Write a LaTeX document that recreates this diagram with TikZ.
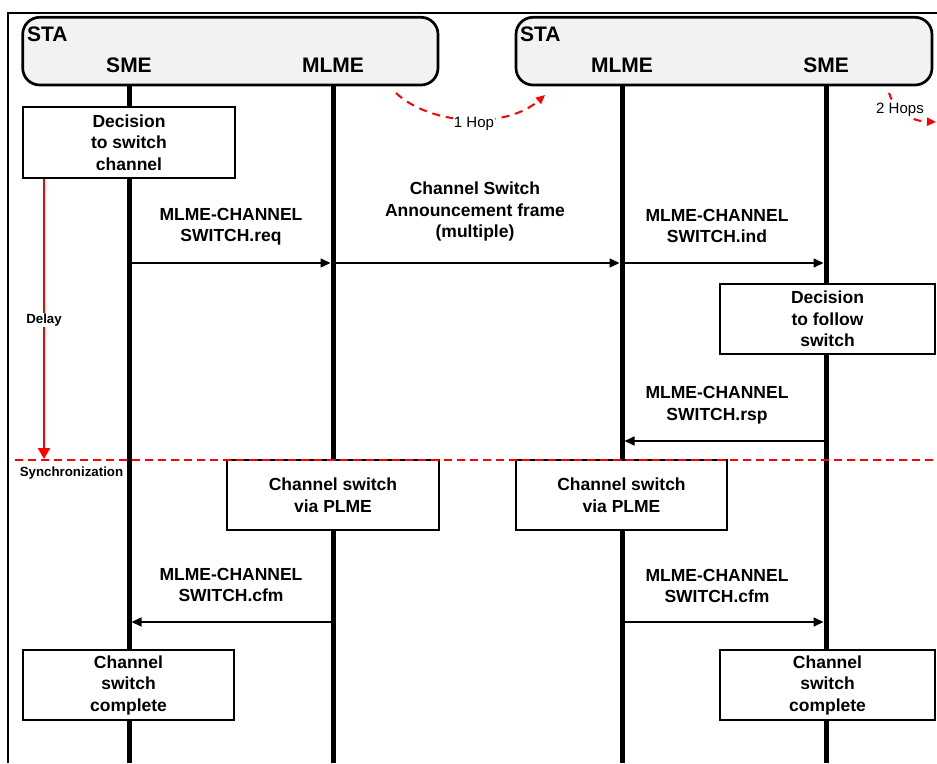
\documentclass[tikz,border=0pt]{standalone}
\usepackage{fontspec}
\setmainfont{Liberation Sans}
\usetikzlibrary{arrows.meta}
\definecolor{stagray}{HTML}{F2F2F2}
\definecolor{hopred}{HTML}{FF0000}
\tikzset{
  frameline/.style={line width=2pt},
  stabox/.style={draw, line width=2.7pt, fill=stagray, rounded corners=17pt},
  head/.style={font=\fontsize{21}{24}\selectfont\bfseries, inner sep=0pt},
  lifeline/.style={line width=5pt},
  procbox/.style={draw, line width=1.2pt, fill=white, align=center, inner sep=0pt,
    font=\fontsize{17.5}{21.5}\selectfont\bfseries},
  msglabel/.style={align=center, inner sep=0pt, font=\fontsize{17.5}{21.5}\selectfont\bfseries},
  msg/.style={line width=1.5pt, -{Triangle[length=10pt,width=9pt]}},
  smalllabel/.style={inner sep=1pt, font=\fontsize{13.3}{16}\selectfont\bfseries},
  hoplabel/.style={inner sep=1pt, fill=white, font=\fontsize{15}{18}\selectfont},
  redarrow/.style={draw=hopred, line width=2pt, -{Triangle[length=11pt,width=12pt]}},
  reddash/.style={draw=hopred, line width=2pt, dash pattern=on 8pt off 5pt},
  hoparc/.style={draw=hopred, line width=2pt, dash pattern=on 8pt off 6pt, -{Triangle[length=9pt,width=8pt]}}
}
\begin{document}
\begin{tikzpicture}[x=1pt,y=-1pt]
\useasboundingbox (0,0) rectangle (937,763);
\fill[white] (0,0) rectangle (937,763);
% outer frame
\draw[frameline] (8,763) -- (8,13) -- (937,13);
% STA boxes
\draw[stabox] (22.7,17.3) rectangle (438,85);
\draw[stabox] (516,17.3) rectangle (932,85);
\node[head, anchor=west] (staL) at (27,34.5) {STA};
\node[head, anchor=west] (staR) at (520,34.5) {STA};
\node[head] (hSME1) at (129,65) {SME};
\node[head] (hMLME1) at (333,65) {MLME};
\node[head] (hMLME2) at (622,65) {MLME};
\node[head] (hSME2) at (826,65) {SME};
% lifelines
\coordinate (L1t) at (129,86); \coordinate (L1b) at (129,763);
\coordinate (L2t) at (333,86); \coordinate (L2b) at (333,763);
\coordinate (L3t) at (622,86); \coordinate (L3b) at (622,763);
\coordinate (L4t) at (826,86); \coordinate (L4b) at (826,763);
\draw[lifeline] (L1t) -- (L1b);
\draw[lifeline] (L2t) -- (L2b);
\draw[lifeline] (L3t) -- (L3b);
\draw[lifeline] (L4t) -- (L4b);
% hops
\coordinate (h1s) at (396,93); \coordinate (h1e) at (545,95);
\draw[hoparc] (h1s) .. controls (430,125) and (505,130) .. (h1e);
\node[hoplabel] (hop1) at (474,124) {1 Hop};
\coordinate (h2s) at (889,93); \coordinate (h2e) at (936,122);
\draw[hoparc, dash pattern=on 7pt off 30pt on 8pt off 6pt] (h2s) .. controls (893,106) and (906,121) .. (h2e);
\node[hoplabel] (hop2) at (900,110) {2 Hops};
% boxes
\node[procbox, minimum width=212pt, minimum height=71pt] (dec1) at (129,142.5) {Decision\\to switch\\channel};
\node[procbox, minimum width=215pt, minimum height=70pt] (dec2) at (827.5,319) {Decision\\to follow\\switch};
\node[procbox, minimum width=212pt, minimum height=70pt] (plme1) at (333,495) {Channel switch\\via PLME};
\node[procbox, minimum width=211pt, minimum height=70pt] (plme2) at (621.5,495) {Channel switch\\via PLME};
\node[procbox, minimum width=211pt, minimum height=70pt] (comp1) at (128.5,685) {Channel\\switch\\complete};
\node[procbox, minimum width=215pt, minimum height=70pt] (comp2) at (827.5,685) {Channel\\switch\\complete};
% delay and synchronization
\coordinate (d0) at (44,178.5); \coordinate (d1) at (44,459);
\draw[redarrow] (d0) -- (d1);
\node[smalllabel, fill=white] (delay) at (44,320) {Delay};
\coordinate (s0) at (15,460); \coordinate (s1) at (937,460);
\draw[reddash] (s0) -- (s1);
\node[smalllabel] (sync) at (71.5,473) {Synchronization};
% messages
\node[msglabel] (mreq) at (231,226.5) {MLME-CHANNEL\\SWITCH.req};
\node[msglabel] (mcsa) at (475,211.5) {Channel Switch\\Announcement frame\\(multiple)};
\node[msglabel] (mind) at (717,226) {MLME-CHANNEL\\SWITCH.ind};
\node[msglabel] (mrsp) at (717,405) {MLME-CHANNEL\\SWITCH.rsp};
\node[msglabel] (mcfm1) at (231,585) {MLME-CHANNEL\\SWITCH.cfm};
\node[msglabel] (mcfm2) at (717,586) {MLME-CHANNEL\\SWITCH.cfm};
\coordinate (a1) at (131.5,263); \coordinate (a2) at (330.5,263);
\coordinate (a3) at (335.5,263); \coordinate (a4) at (619.5,263);
\coordinate (a5) at (624.5,263); \coordinate (a6) at (823.5,263);
\coordinate (b1) at (823.5,441); \coordinate (b2) at (624.5,441);
\coordinate (c1) at (330.5,622); \coordinate (c2) at (131.5,622);
\coordinate (c3) at (624.5,622); \coordinate (c4) at (823.5,622);
\draw[msg] (a1) -- (a2);
\draw[msg] (a3) -- (a4);
\draw[msg] (a5) -- (a6);
\draw[msg] (b1) -- (b2);
\draw[msg] (c1) -- (c2);
\draw[msg] (c3) -- (c4);
\end{tikzpicture}
\end{document}
